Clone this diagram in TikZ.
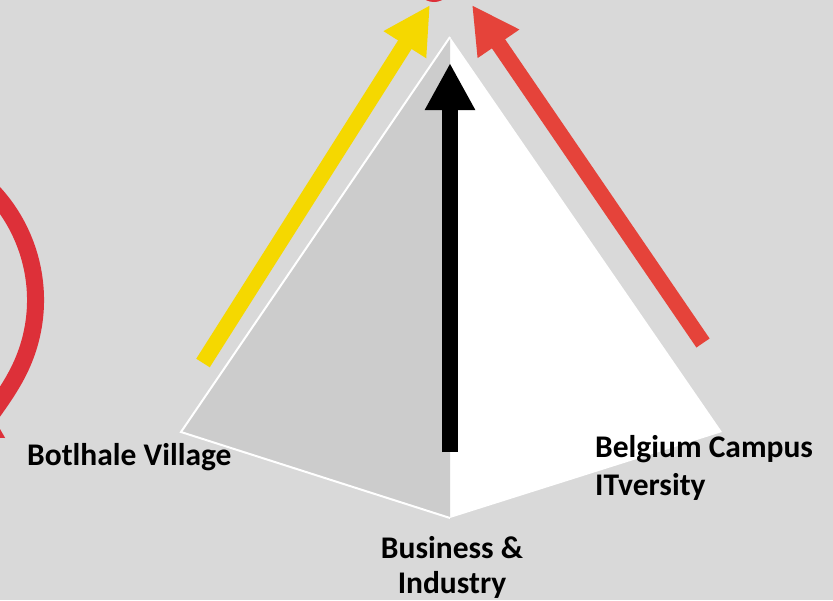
\documentclass[tikz,border=0pt]{standalone}
\usepackage{fontspec}
\setmainfont{Carlito}
\usetikzlibrary{arrows.meta}
\definecolor{bg}{HTML}{D9D9D9}
\definecolor{leftface}{HTML}{CCCCCC}
\definecolor{ylw}{HTML}{F5D800}
\definecolor{redA}{HTML}{E5433A}
\definecolor{redC}{HTML}{DD3039}
\begin{document}
\begin{tikzpicture}[x=1pt,y=-1pt,
  lbl/.style={font=\fontsize{31.5}{38}\selectfont\bfseries, text=black, inner sep=0pt},
  bigarrow/.style={line width=16pt, -{Triangle[width=47pt,length=47pt]}}]
\useasboundingbox (0,0) rectangle (833,600);
\fill[bg] (0,0) rectangle (833,600);
% pyramid corners
\coordinate (apex) at (450,37);
\coordinate (lft) at (181,432);
\coordinate (bot) at (450,518);
\coordinate (rgt) at (722,432);
\fill[white] (apex) -- (rgt) -- (bot) -- cycle;
\fill[leftface] (apex) -- (lft) -- (bot) -- cycle;
\draw[white, line width=2pt, line join=miter] (apex) -- (lft) -- (bot);
% arrows
\coordinate (yt) at (203,363);
\coordinate (yh) at (430,5);
\coordinate (rt) at (703,343);
\coordinate (rh) at (472,5);
\coordinate (bt) at (450,452);
\coordinate (bh) at (450,63);
\draw[bigarrow, ylw] (yt) -- (yh);
\draw[bigarrow, redA] (rt) -- (rh);
\draw[bigarrow, black] (bt) -- (bh);
% left circular arrow
\coordinate (cc) at (-123,300);
\draw[redC, line width=17pt, -{Triangle[width=47pt,length=42pt]}]
  (cc) ++(-65:158.5) arc[start angle=-65, end angle=60, radius=158.5];
% top red circle (cut off)
\fill[redC] (434,-16) circle[radius=18];
% labels
\node[lbl, anchor=base west] (bv) at (27,465) {Botlhale Village};
\node[lbl, anchor=base west] (bc1) at (595,457) {Belgium Campus};
\node[lbl, anchor=base west] (bc2) at (595,495) {ITversity};
\node[lbl, anchor=base] (bi1) at (452,558) {Business \&};
\node[lbl, anchor=base] (bi2) at (452,593) {Industry};
\end{tikzpicture}
\end{document}
